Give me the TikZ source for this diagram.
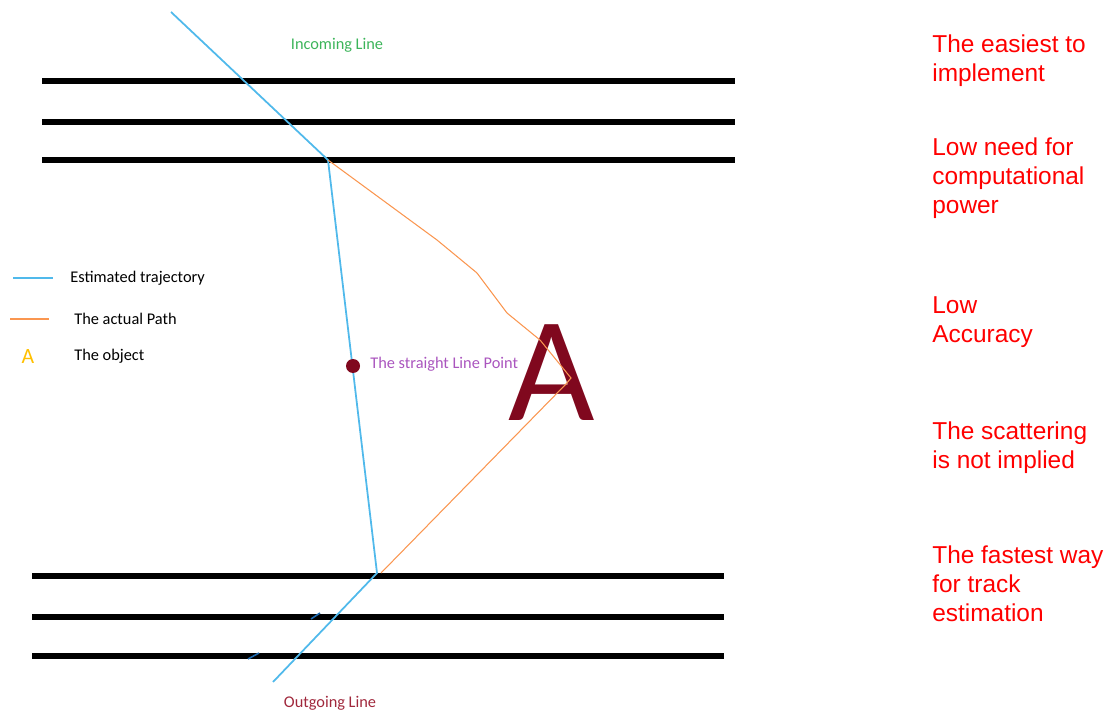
\documentclass[tikz,border=0pt]{standalone}
\usepackage{fontspec}
\setmainfont{Liberation Sans}
\newfontfamily\calibri{Carlito}
\usetikzlibrary{positioning}
\definecolor{trackblue}{RGB}{80,185,235}
\definecolor{tickblue}{RGB}{30,105,175}
\definecolor{pathorange}{RGB}{250,150,80}
\definecolor{objred}{RGB}{128,8,30}
\definecolor{outred}{RGB}{160,40,60}
\definecolor{inggreen}{RGB}{60,180,90}
\definecolor{pointviolet}{RGB}{170,85,190}
\definecolor{objyellow}{RGB}{255,192,0}
\newcommand{\lines}[1]{\begin{tabular}[t]{@{}l@{}}#1\end{tabular}}

\begin{document}
\begin{tikzpicture}[
x=0.02cm, y=-0.02cm,
plane/.style={line width=3.2pt},
estimate/.style={trackblue, line width=1pt},
actual/.style={pathorange, line width=0.6pt},
label/.style={inner sep=0, font=\calibri\fontsize{9.3}{11}\selectfont},
remark/.style={inner sep=0, text=red, anchor=base west,
font=\fontsize{13.9}{16.5}\selectfont}
]
\useasboundingbox (0,0) rectangle (1108,712);

% detector planes
\draw[plane] (42,81) -- (735,81);
\draw[plane] (42,122) -- (735,122);
\draw[plane] (42,160) -- (735,160);
\draw[plane] (32,576) -- (724,576);
\draw[plane] (32,617) -- (724,617);
\draw[plane] (32,656) -- (724,656);

% object
\node (object)[anchor=base, inner sep=0, text=objred,
font=\calibri\fontsize{85}{90}\selectfont] at (552,420) {A};

% track points
\coordinate (start) at (171,12);
\coordinate (entry) at (328,160);
\coordinate (exit) at (377,573);
\coordinate (finish) at (273,682);
\coordinate (bend1) at (437,240);
\coordinate (bend2) at (477,273);
\coordinate (bend3) at (507,313);
\coordinate (bend4) at (540,340);
\coordinate (turn) at (571,378);
\coordinate (back) at (566,384);
\coordinate (leave) at (381,573);

\draw[estimate] (start)--(entry)--(exit)--(finish);
\draw[actual] (entry)--(bend1)--(bend2)--(bend3)--(bend4)--(turn)--(back)--(leave);
\draw[tickblue, line width=0.9pt] (311,619)--(320,613);
\draw[tickblue, line width=0.9pt] (248,659)--(259,653);

% straight line point
\node (slpoint)[circle, fill=objred, inner sep=0, minimum size=14*0.02cm] at (353,366) {};
\node (slpointlabel)[label, anchor=base west, text=pointviolet] at (370,369) {The straight Line Point};

\node (incoming)[label, anchor=base, text=inggreen] at (337,50) {Incoming Line};
\node (outgoing)[label, anchor=base, text=outred] at (330,707) {Outgoing Line};

% legend
\coordinate (legblueA) at (13,278);
\coordinate (legblueB) at (53,278);
\coordinate (legorangeA) at (10,319);
\coordinate (legorangeB) at (49,319);
\draw[estimate] (legblueA)--(legblueB);
\draw[actual] (legorangeA)--(legorangeB);
\node (legA)[anchor=base, inner sep=0, text=objyellow,
font=\calibri\fontsize{12.4}{14}\selectfont] at (28,364) {A};
\node (legest)[label, anchor=base west] at (70,283) {Estimated trajectory};
\node (legpath)[label, anchor=base west] at (74,325) {The actual Path};
\node (legobj)[label, anchor=base west] at (74,361) {The object};

% remarks
\node (easy)[remark] at (932,52.5) {\lines{The easiest to\\implement}};
\node (power)[remark] at (932,156) {\lines{Low need for\\computational\\power}};
\node (accuracy)[remark] at (932,314) {\lines{Low\\Accuracy}};
\node (scatter)[remark] at (932,439.5) {\lines{The scattering\\is not implied}};
\node (fastest)[remark] at (932,563.5) {\lines{The fastest way\\for track\\estimation}};

\end{tikzpicture}
\end{document}
